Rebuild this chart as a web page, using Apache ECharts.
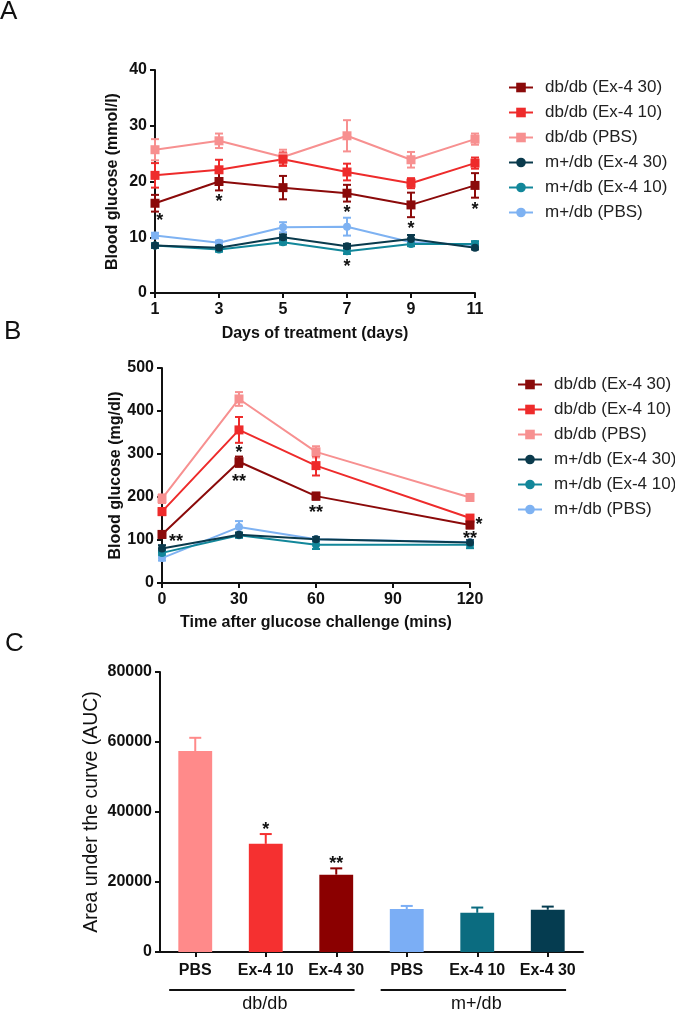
<!DOCTYPE html>
<html><head><meta charset="utf-8">
<script src="https://cdn.jsdelivr.net/npm/echarts@6/dist/echarts.min.js"></script>
<style>html,body{margin:0;padding:0;background:#fff}#c{width:675px;height:1013px}</style>
</head><body><div id="c"></div>
<script>
// ---------- Data ----------
const seriesNames = ['db/db (Ex-4 30)','db/db (Ex-4 10)','db/db (PBS)','m+/db (Ex-4 30)','m+/db (Ex-4 10)','m+/db (PBS)'];
const seriesColors = ['#8B0A0A','#EE2B2B','#F79090','#0A3A4C','#12879A','#7EB2F2'];
const seriesSymbols = ['rect','rect','rect','circle','circle','circle'];

// Panel A: days of treatment
const daysA = [1,3,5,7,9,11];
const A_db30 = [16.1,20.0,18.9,17.9,15.8,19.3];
const A_db30_err = [1.5,1.6,2.1,1.5,2.2,2.2];
const A_db10 = [21.1,22.1,24.0,21.7,19.7,23.3];
const A_db10_err = [2.2,1.8,1.2,1.5,0.9,1.0];
const A_dbPBS = [25.7,27.3,24.4,28.2,23.9,27.6];
const A_dbPBS_err = [1.9,1.3,1.3,2.8,1.4,1.0];
const A_m30 = [8.5,8.1,10.0,8.4,9.7,8.1];
const A_m30_err = [0.4,0.4,0.5,0.4,0.7,0.3];
const A_m10 = [8.5,7.8,9.1,7.5,8.8,8.8];
const A_m10_err = [0.4,0.4,0.4,0.5,0.4,0.5];
const A_mPBS = [10.3,9.0,11.8,11.9,9.1,8.6];
const A_mPBS_err = [0.5,0.4,0.9,1.6,0.5,0.5];
const A_sig = [[1.15,13.7,'*'],[3,17.1,'*'],[7,15.3,'*'],[7,5.6,'*'],[9,12.4,'*'],[11,15.8,'*']];

// Panel B: glucose challenge
const timesB = [0,30,60,120];
const B_db30 = [113,282,202,135];
const B_db30_err = [8,12,8,8];
const B_db10 = [166,356,273,151];
const B_db10_err = [8,30,23,7];
const B_dbPBS = [196,428,305,199];
const B_dbPBS_err = [10,16,13,8];
const B_m30 = [80,112,102,94];
const B_m30_err = [8,5,5,6];
const B_m10 = [70,111,89,89];
const B_m10_err = [6,6,10,8];
const B_mPBS = [58,130,102,95];
const B_mPBS_err = [6,14,5,5];
const B_sig = [[30,314,'*'],[30,246,'**'],[5.5,107,'**'],[60,175,'**'],[123.5,145,'*'],[120,114,'**']];

// Panel C: AUC
const groupsC = ['db/db','db/db','db/db','m+/db','m+/db','m+/db'];
const treatC = ['PBS','Ex-4 10','Ex-4 30','PBS','Ex-4 10','Ex-4 30'];
const aucC = [57400,30900,22100,12260,11200,12070];
const aucC_err = [3800,2800,1800,900,1500,900];
const barColors = ['#FF8A8A','#F53030','#8B0000','#7BAEF5','#0B6C80','#053C50'];
const C_sig = [[1,36300,'*'],[2,26400,'**']];
const groupSpans = [[0,2,'db/db'],[3,5,'m+/db']];

// ---------- Chart ----------
const FONT = 'Arial, "Liberation Sans", sans-serif';
const chart = echarts.init(document.getElementById('c'), null, {renderer:'canvas'});
const A_vals = [A_db30,A_db10,A_dbPBS,A_m30,A_m10,A_mPBS];
const A_errs = [A_db30_err,A_db10_err,A_dbPBS_err,A_m30_err,A_m10_err,A_mPBS_err];
const B_vals = [B_db30,B_db10,B_dbPBS,B_m30,B_m10,B_mPBS];
const B_errs = [B_db30_err,B_db10_err,B_dbPBS_err,B_m30_err,B_m10_err,B_mPBS_err];

function errItem(color, cap, upOnly){
  return function(params, api){
    const x = api.value(0), y = api.value(1), e = api.value(2);
    const top = api.coord([x, y + e]);
    const mid = api.coord([x, y]);
    const bot = upOnly ? mid : api.coord([x, y - e]);
    const st = {stroke: color, lineWidth: 2};
    const ch = [
      {type:'line', shape:{x1:top[0],y1:top[1],x2:bot[0],y2:bot[1]}, style:st},
      {type:'line', shape:{x1:top[0]-cap,y1:top[1],x2:top[0]+cap,y2:top[1]}, style:st}
    ];
    if(!upOnly) ch.push({type:'line', shape:{x1:bot[0]-cap,y1:bot[1],x2:bot[0]+cap,y2:bot[1]}, style:st});
    return {type:'group', children:ch};
  };
}
// asterisk glyph sits high in the em box: shift so the glyph centre lands on the point
function sigItem(arr, size){
  return function(params, api){
    const d = arr[params.dataIndex];
    const p = api.coord([d[0], d[1]]);
    return {type:'text', x:p[0], y:p[1] + size*0.27, style:{text: d[2], fill:'#111', font:'bold '+size+'px '+FONT, align:'center', verticalAlign:'middle'}};
  };
}

const series = [];
function addPanel(xs, vals, errs, gi, sig){
  for(let i=5;i>=0;i--){
    const col = seriesColors[i];
    series.push({type:'custom', xAxisIndex:gi, yAxisIndex:gi, z:2,
      renderItem: errItem(col, 4, false), silent:true,
      data: xs.map((x,k)=>[x, vals[i][k], errs[i][k]]), encode:{x:0,y:1}});
  }
  for(let i=5;i>=0;i--){
    const col = seriesColors[i];
    series.push({type:'line', name: seriesNames[i], xAxisIndex:gi, yAxisIndex:gi, z:3,
      data: xs.map((x,k)=>[x, vals[i][k]]),
      symbol: seriesSymbols[i], symbolSize: seriesSymbols[i]==='rect'?9:8,
      color: col, lineStyle:{color:col,width:2}, itemStyle:{color:col}, animation:false});
  }
  series.push({type:'custom', xAxisIndex:gi, yAxisIndex:gi, z:5, renderItem: sigItem(sig, 18), silent:true, clip:false,
    data: sig.map(d=>[d[0], d[1]]), encode:{x:0,y:1}});
}
addPanel(daysA, A_vals, A_errs, 0, A_sig);
addPanel(timesB, B_vals, B_errs, 1, B_sig);

// Panel C
series.push({type:'bar', xAxisIndex:2, yAxisIndex:2, barWidth:'48%', z:3,
  data: aucC.map((v,i)=>({value:v, itemStyle:{color:barColors[i]}})), animation:false});
series.push({type:'custom', xAxisIndex:2, yAxisIndex:2, z:2, silent:true,
  renderItem: function(params, api){
    return errItem(barColors[params.dataIndex], 6, true)(params, api);
  },
  data: aucC.map((v,i)=>[i, v, aucC_err[i]]), encode:{x:0,y:1}});
series.push({type:'custom', xAxisIndex:2, yAxisIndex:2, z:5, silent:true, clip:false, renderItem: sigItem(C_sig, 18),
  data: C_sig.map(d=>[d[0], d[1]]), encode:{x:0,y:1}});
series.push({type:'custom', xAxisIndex:2, yAxisIndex:2, z:5, silent:true, clip:false,
  renderItem: function(params, api){
    const g = groupSpans[params.dataIndex];
    const p1 = api.coord([g[0], 0]), p2 = api.coord([g[1], 0]);
    const bw = api.size([1, 0])[0];
    const xa = p1[0] - bw*0.37, xb = p2[0] + bw*0.26, y = p1[1] + 38;
    return {type:'group', children:[
      {type:'line', shape:{x1:xa,y1:y,x2:xb,y2:y}, style:{stroke:'#111', lineWidth:2}},
      {type:'text', x:(xa+xb)/2 + 3, y:y+14, style:{text: g[2], fill:'#111', font:'18px '+FONT, align:'center', verticalAlign:'middle'}}
    ]};
  },
  data: groupSpans.map(g=>[g[0], 0]), encode:{x:0,y:1}});

const axisLine = {lineStyle:{color:'#111', width:2}};
const axisTick = {show:true, length:5, lineStyle:{color:'#111', width:2}};
const tickLabel = {color:'#111', fontFamily:FONT, fontWeight:'bold', fontSize:16};
const nameStyle = {color:'#111', fontFamily:FONT, fontWeight:'bold', fontSize:16};
const plain = v => String(v);
const legendText = {fontSize:17, color:'#222', fontFamily:FONT, padding:[0,0,0,7]};

const option = {
  animation:false,
  textStyle:{fontFamily:FONT},
  graphic:[
    {type:'text', left:0, top:-1, style:{text:'A', font:'26px '+FONT, fill:'#111'}},
    {type:'text', left:4, top:319, style:{text:'B', font:'26px '+FONT, fill:'#111'}},
    {type:'text', left:5, top:631, style:{text:'C', font:'26px '+FONT, fill:'#111'}}
  ],
  legend:[
    {orient:'vertical', left:508, top:79, padding:0, itemWidth:24, itemHeight:12, itemGap:8,
     data: seriesNames, textStyle:legendText},
    {orient:'vertical', left:517, top:376, padding:0, itemWidth:24, itemHeight:12, itemGap:8,
     data: seriesNames, textStyle:legendText}
  ],
  grid:[
    {left:155, top:70, width:320, height:223},
    {left:162, top:368, width:308, height:215},
    {left:160, top:672, width:423, height:280}
  ],
  xAxis:[
    {gridIndex:0, type:'value', min:1, max:11, interval:2, axisLine, axisTick, splitLine:{show:false},
     axisLabel:{...tickLabel, margin:9, formatter:plain}, name:'Days of treatment (days)', nameLocation:'middle', nameGap:33, nameTextStyle:nameStyle},
    {gridIndex:1, type:'value', min:0, max:120, interval:30, axisLine, axisTick, splitLine:{show:false},
     axisLabel:{...tickLabel, margin:9, formatter:plain}, name:'Time after glucose challenge (mins)', nameLocation:'middle', nameGap:32, nameTextStyle:nameStyle},
    {gridIndex:2, type:'category', data: treatC.map((t,i)=>groupsC[i]+'|'+t), axisLine, axisTick:{...axisTick, alignWithLabel:true},
     axisLabel:{...tickLabel, margin:11, interval:0, formatter:(v)=>v.split('|')[1]}}
  ],
  yAxis:[
    {gridIndex:0, type:'value', min:0, max:40, interval:10, axisLine:{show:true,...axisLine}, axisTick, splitLine:{show:false},
     axisLabel:{...tickLabel, margin:8, formatter:plain}, name:'Blood glucose (mmol/l)', nameLocation:'middle', nameGap:34, nameTextStyle:nameStyle},
    {gridIndex:1, type:'value', min:0, max:500, interval:100, axisLine:{show:true,...axisLine}, axisTick, splitLine:{show:false},
     axisLabel:{...tickLabel, margin:8, formatter:plain}, name:'Blood glucose (mg/dl)', nameLocation:'middle', nameGap:38, nameTextStyle:nameStyle},
    {gridIndex:2, type:'value', min:0, max:80000, interval:20000, axisLine:{show:true,...axisLine}, axisTick, splitLine:{show:false},
     axisLabel:{...tickLabel, margin:8, formatter:plain}, name:'Area under the curve (AUC)', nameLocation:'middle', nameGap:58,
     nameMoveOverlap:false,
     nameTextStyle:{color:'#111', fontFamily:FONT, fontSize:19.5}}
  ],
  series
};
chart.setOption(option);
</script></body></html>
